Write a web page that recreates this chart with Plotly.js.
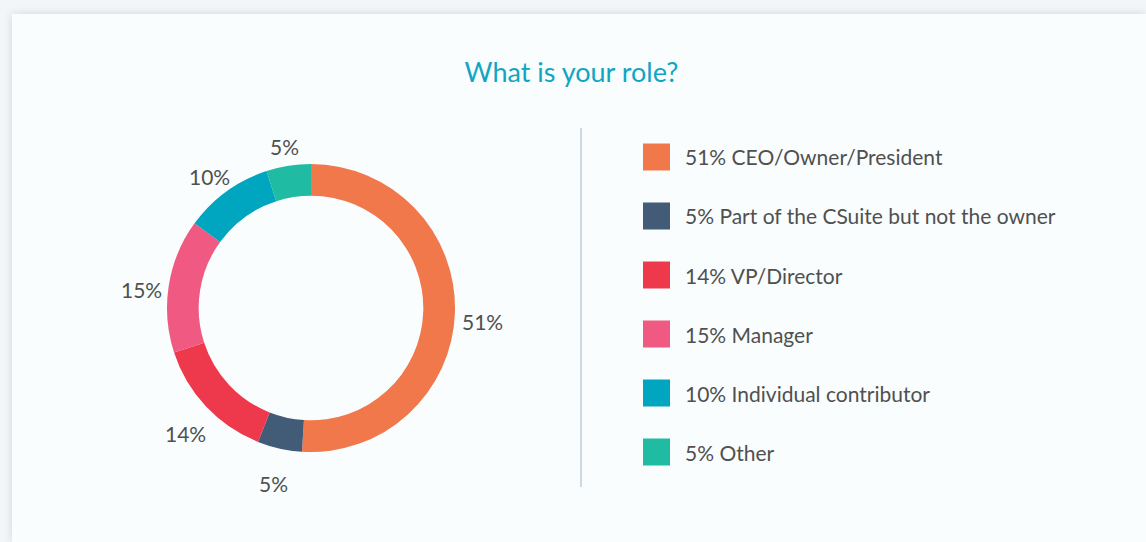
<!DOCTYPE html>
<html>
<head>
<meta charset="utf-8">
<script src="https://cdn.plot.ly/plotly-3.0.1.min.js"></script>
<style>
  html, body { margin:0; padding:0; width:1146px; height:542px; overflow:hidden; background:#f3f6f9; }
  #card { position:absolute; left:12px; top:14px; right:0; bottom:0; background:#f9fdfe;
          box-shadow:0 0 9px rgba(0,0,0,0.13); }
  #chart { position:absolute; left:0; top:0; width:1146px; height:542px; }
</style>
</head>
<body>
<div id="card"></div>
<div id="chart"></div>
<script>
const categories = ["CEO/Owner/President", "Part of the CSuite but not the owner", "VP/Director", "Manager", "Individual contributor", "Other"];
const percentages = [51, 5, 14, 15, 10, 5];
const colors = ["#f0784a", "#425b76", "#ee394d", "#f05a82", "#00a5bf", "#1fbba3"];

const W = 1146, H = 542;
const textColor = "#505050";
const font = "Lato, 'Open Sans', sans-serif";

// donut geometry (pixels)
const cx = 311, cy = 308, r = 144;
const labelR = 172, labelDy = 8;

const trace = {
  type: "pie",
  values: percentages,
  labels: categories,
  marker: { colors: colors, line: { width: 0 } },
  hole: 0.78,
  sort: false,
  direction: "clockwise",
  rotation: 0,
  textinfo: "none",
  hoverinfo: "none",
  showlegend: false,
  domain: { x: [(cx - r) / W, (cx + r) / W], y: [1 - (cy + r) / H, 1 - (cy - r) / H] }
};

const shapes = [{
  type: "line", xref: "paper", yref: "paper",
  x0: 581 / W, x1: 581 / W, y0: 1 - 128 / H, y1: 1 - 487 / H,
  line: { color: "#cdd9e4", width: 2 }
}];
const annotations = [];

// outside percentage labels, placed at each slice's mid-angle
const total = percentages.reduce((a, b) => a + b, 0);
let cum = 0;
percentages.forEach((v, i) => {
  const mid = (cum + v / 2) / total;
  cum += v;
  const th = 2 * Math.PI * mid;
  const px = cx + labelR * Math.sin(th);
  const py = cy - labelR * Math.cos(th) + labelDy;
  annotations.push({
    xref: "paper", yref: "paper", x: px / W, y: 1 - py / H,
    xanchor: "center", yanchor: "middle", showarrow: false,
    text: v + "%",
    font: { family: font, size: 21, color: textColor }
  });
});

// legend
const rowStart = 157, rowStep = 59, sq = 27;
categories.forEach((c, i) => {
  const ry = rowStart + i * rowStep;
  shapes.push({
    type: "rect", xref: "paper", yref: "paper",
    x0: 643 / W, x1: (643 + sq) / W,
    y0: 1 - (ry + sq / 2) / H, y1: 1 - (ry - sq / 2) / H,
    fillcolor: colors[i], line: { width: 0 }
  });
  annotations.push({
    xref: "paper", yref: "paper", x: 683 / W, y: 1 - ry / H,
    xanchor: "left", yanchor: "middle", showarrow: false,
    text: percentages[i] + "% " + c,
    font: { family: font, size: 21, color: textColor }
  });
});

const layout = {
  width: W, height: H,
  margin: { l: 0, r: 0, t: 0, b: 0 },
  paper_bgcolor: "rgba(0,0,0,0)",
  plot_bgcolor: "rgba(0,0,0,0)",
  title: {
    text: "What is your role?",
    x: 571.5 / W, xanchor: "center", y: 1 - 73 / H, yanchor: "middle",
    xref: "paper", yref: "paper",
    font: { family: font, size: 27, color: "#12a5c3" }
  },
  shapes: shapes,
  annotations: annotations,
  showlegend: false
};

Plotly.newPlot("chart", [trace], layout, { displayModeBar: false, staticPlot: true });
</script>
</body>
</html>
